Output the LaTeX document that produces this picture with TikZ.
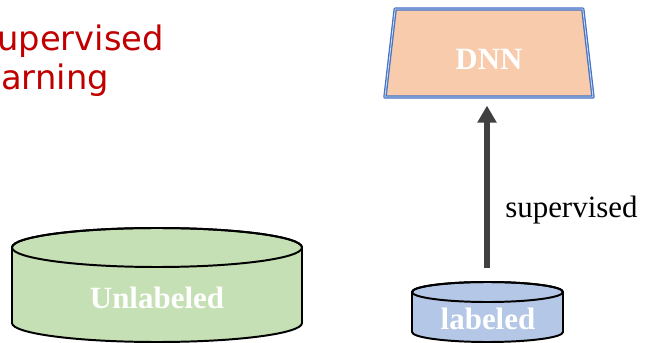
\documentclass[tikz,border=0pt]{standalone}
\usepackage{fontspec}
\setmainfont{Liberation Serif}
\newfontfamily\ttlfont{DejaVu Sans}
\usetikzlibrary{arrows.meta}
\usetikzlibrary{shapes.geometric}
\definecolor{ttlred}{HTML}{C00000}
\definecolor{unlgreen}{HTML}{C5E0B4}
\definecolor{labblue}{HTML}{B4C7E7}
\definecolor{dnnpeach}{HTML}{F8CBAD}
\definecolor{dnnblue}{HTML}{4472C4}
\definecolor{arrgray}{HTML}{404040}
\begin{document}
\begin{tikzpicture}[line cap=round,line join=round,x=0.025cm,y=0.025cm,
ttl/.style={inner sep=0pt,anchor=base west,text=ttlred,
  font=\ttlfont\fontsize{24}{28}\selectfont},
dbtext/.style={inner sep=0pt,text=white,
  font=\bfseries\fontsize{22}{26}\selectfont},
dbline/.style={line width=1.4pt,draw=black},
lbl/.style={inner sep=0pt,anchor=west,font=\fontsize{22}{26}\selectfont},
bigarrow/.style={draw=arrgray,line width=4.3pt,line cap=butt,
  -{Triangle[width=13pt,length=12pt]}}]
\useasboundingbox (0,0) rectangle (647,343);
% Tiêu đề
\node[ttl] (ttlA) at (-3,292.5) {upervised};
\node[ttl] (ttlB) at (1,253) {arning};
% Khối DNN
\node[trapezium,trapezium left angle=76.6,trapezium right angle=76.6,
  trapezium stretches body,minimum width=5.2cm,minimum height=2.2cm,
  fill=dnnpeach,draw=dnnblue,line width=0.9pt,double=dnnblue!25!white,
  double distance=0.6pt,text=white,
  font=\bfseries\fontsize{22}{26}\selectfont,text height=0.84cm,
  text depth=0pt] (dnn) at (489,290) {DNN};
% Trụ Unlabeled
\filldraw[dbline,fill=unlgreen] (12,95.5) -- (12,20)
  arc[start angle=180,end angle=360,x radius=145,y radius=19]
  -- (302,95.5)
  arc[start angle=0,end angle=180,x radius=145,y radius=19.5] -- cycle;
\draw[dbline] (157,95.5) ellipse [x radius=145,y radius=19.5];
\node[dbtext] (unl) at (157,45) {Unlabeled};
% Trụ labeled
\filldraw[dbline,fill=labblue] (412,51) -- (412,11)
  arc[start angle=180,end angle=360,x radius=75.5,y radius=10]
  -- (563,51)
  arc[start angle=0,end angle=180,x radius=75.5,y radius=10] -- cycle;
\draw[dbline] (487.5,51) ellipse [x radius=75.5,y radius=10];
\node[dbtext] (lab) at (488,24) {labeled};
\coordinate (labT) at (487,61);
% Mũi tên
\draw[bigarrow,shorten <=10pt,shorten >=5.7pt] (labT) -- (labT |- dnn.south);
\node[lbl] (sup) at (505,133) {supervised};
\end{tikzpicture}
\end{document}
